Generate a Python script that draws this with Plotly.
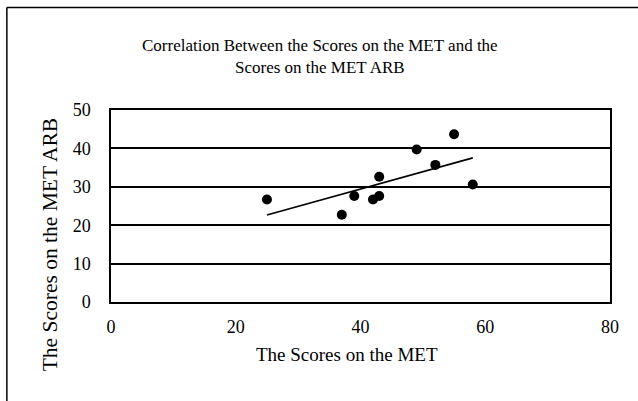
import numpy as np
import plotly.graph_objects as go

# Data
met_scores = [25, 37, 39, 42, 43, 43, 49, 52, 55, 58]
met_arb_scores = [26.7, 22.7, 27.6, 26.7, 27.6, 32.6, 39.7, 35.7, 43.7, 30.6]

x_ticks = [0, 20, 40, 60, 80]
y_ticks = [0, 10, 20, 30, 40, 50]

title_text = "Correlation Between the Scores on the MET and the<br>Scores on the MET ARB"
x_title = "The Scores on the MET"
y_title = "The Scores on the MET ARB"

FONT = "Liberation Serif, Times New Roman, serif"

# Linear trendline (least squares) over the data range
slope, intercept = np.polyfit(met_scores, met_arb_scores, 1)
trend_x = [min(met_scores), max(met_scores)]
trend_y = [slope * v + intercept for v in trend_x]

fig = go.Figure()
fig.add_trace(go.Scatter(
    x=met_scores, y=met_arb_scores, mode="markers",
    marker=dict(color="black", size=10), showlegend=False,
    cliponaxis=False,
))
fig.add_trace(go.Scatter(
    x=trend_x, y=trend_y, mode="lines",
    line=dict(color="black", width=1.6), showlegend=False,
))

fig.update_layout(
    width=638, height=401,
    margin=dict(l=111, r=28, t=110, b=99, pad=0, autoexpand=False),
    paper_bgcolor="white", plot_bgcolor="white",
    font=dict(family=FONT, color="black", size=17),
    xaxis=dict(
        range=[0, 80], tickvals=x_ticks, ticktext=[str(v) for v in x_ticks],
        showgrid=False, zeroline=False, showline=True, mirror=True,
        linecolor="black", linewidth=1.5, ticks="", automargin=False,
        tickfont=dict(family=FONT, size=18), ticklabelstandoff=8,
    ),
    yaxis=dict(
        range=[0, 50], tickvals=y_ticks, ticktext=[str(v) for v in y_ticks],
        showgrid=True, gridcolor="black", gridwidth=1.5, zeroline=False,
        showline=True, mirror=True, linecolor="black", linewidth=1.5,
        ticks="", automargin=False,
        tickfont=dict(family=FONT, size=18), ticklabelstandoff=15,
    ),
    annotations=[
        dict(text=title_text, xref="paper", yref="paper", x=0.419, y=1.279,
             xanchor="center", yanchor="middle", showarrow=False,
             font=dict(family=FONT, size=17), align="center"),
        dict(text=x_title, xref="paper", yref="paper", x=0.473, y=-0.276,
             xanchor="center", yanchor="middle", showarrow=False,
             font=dict(family=FONT, size=19)),
        dict(text=y_title, xref="paper", yref="paper", x=-0.1216, y=0.297,
             xanchor="center", yanchor="middle", showarrow=False, textangle=-90,
             font=dict(family=FONT, size=21.5)),
    ],
    shapes=[
        dict(type="line", xref="paper", yref="paper",
             x0=-0.2087, x1=-0.2087, y0=1.534, y1=-0.6,
             line=dict(color="black", width=1.5)),
        dict(type="line", xref="paper", yref="paper",
             x0=-0.2087, x1=1.1, y0=1.534, y1=1.534,
             line=dict(color="black", width=1.5)),
    ],
)

fig.write_html(
    "out.html",
    config={"displayModeBar": False},
    post_script="document.body.style.margin='0';document.body.style.overflow='hidden';",
)
